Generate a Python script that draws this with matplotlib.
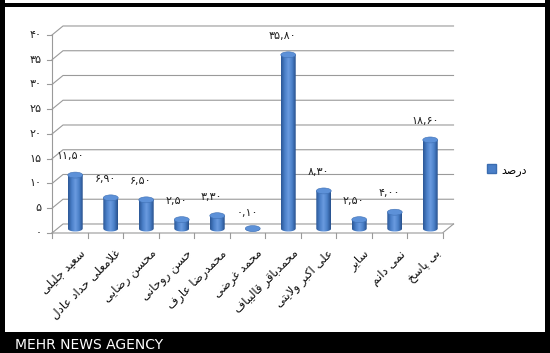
import unicodedata

import matplotlib.pyplot as plt
import numpy as np
from matplotlib.colors import LinearSegmentedColormap
from matplotlib.patches import Ellipse, PathPatch, Patch, Rectangle
from matplotlib.path import Path

# data
names = ['سعید جلیلی', 'غلامعلی حداد عادل', 'محسن رضایی', 'حسن روحانی',
         'محمدرضا عارف', 'محمد غرضی', 'محمدباقر قالیباف', 'علی اکبر ولایتی',
         'سایر', 'نمی دانم', 'بی پاسخ']
percent = [11.50, 6.90, 6.50, 2.50, 3.30, 0.10, 35.80, 8.30, 2.50, 4.00, 18.60]
yticks = [0, 5, 10, 15, 20, 25, 30, 35, 40]
legend_label = 'درصد'
footer = 'MEHR NEWS AGENCY'


def fa(s):
    # tiny arabic-script shaper: pick presentation forms, then reverse for RTL
    def form(c, f):
        try:
            return unicodedata.lookup(unicodedata.name(c) + ' ' + f + ' FORM')
        except (KeyError, ValueError):
            return None

    def is_ar(c):
        return c is not None and form(c, 'ISOLATED') is not None

    def joins_left(c):
        return c is not None and form(c, 'INITIAL') is not None

    out = []
    i = 0
    while i < len(s):
        c = s[i]
        prev = s[i - 1] if i > 0 else None
        nxt = s[i + 1] if i + 1 < len(s) else None
        jp = is_ar(c) and joins_left(prev)
        if c == 'ل' and nxt == 'ا':
            out.append(unicodedata.lookup('ARABIC LIGATURE LAM WITH ALEF ' +
                                          ('FINAL' if jp else 'ISOLATED') + ' FORM'))
            i += 2
            continue
        jn = joins_left(c) and is_ar(nxt)
        if not is_ar(c):
            out.append(c)
        else:
            f = {(True, True): 'MEDIAL', (True, False): 'FINAL',
                 (False, True): 'INITIAL', (False, False): 'ISOLATED'}[(jp, jn)]
            out.append(form(c, f) or c)
        i += 1
    return ''.join(reversed(out))


def fa_num(x, fmt):
    s = fmt % x
    return s.translate(str.maketrans('0123456789.', '۰۱۲۳۴۵۶۷۸۹,'))


fig = plt.figure(figsize=(5.5, 3.53), dpi=100)
ax = fig.add_axes([0, 0, 1, 1])
# one category = 35.5 px, one percent = 4.95 px
ax.set_xlim(-52 / 35.5, 498 / 35.5)
ax.set_ylim(-120 / 4.95, 233 / 4.95)
ax.axis('off')

n = len(percent)
DX, DY = 0.31, 1.82   # depth of the 3d box
grid = '#9a9a9a'

# walls and floor
for v in yticks:
    ax.plot([0, DX, n + DX], [v, v + DY, v + DY], color=grid, lw=0.8, zorder=1)
    ax.plot([-0.14, 0], [v, v], color=grid, lw=0.8)
    ax.text(-0.3, v, fa_num(v, '%d'), ha='right', va='center', fontsize=8,
            color='#222222')
ax.plot([0, 0], [0, yticks[-1]], color=grid, lw=0.8)
ax.plot([0, n, n + DX], [0, 0, DY], color=grid, lw=0.8)
for k in range(n + 1):
    ax.plot([k, k], [0, -1.0], color=grid, lw=0.8)

# cylinders
cmap = LinearSegmentedColormap.from_list(
    'cyl', ['#2b5796', '#4a7fc8', '#6a9be0', '#4b80c8', '#27508c'])
grad = np.linspace(0, 1, 64).reshape(1, -1)
bw, eh, bottom = 0.42, 1.2, 0.9
for i, val in enumerate(percent):
    cx = i + 0.5 + 0.155
    top = max(val + 0.2, bottom)
    t = np.linspace(np.pi, 2 * np.pi, 30)
    arc = np.column_stack([cx + bw / 2 * np.cos(t), bottom + eh / 2 * np.sin(t)])
    verts = np.vstack([[cx - bw / 2, top], arc, [cx + bw / 2, top], [cx - bw / 2, top]])
    body = PathPatch(Path(verts, closed=True), facecolor='none', edgecolor='none')
    ax.add_patch(body)
    im = ax.imshow(grad, cmap=cmap, aspect='auto', zorder=2,
                   extent=(cx - bw / 2, cx + bw / 2, bottom - eh, top))
    im.set_clip_path(body)
    ax.add_patch(Ellipse((cx, top), bw, eh, facecolor='#5d91d8',
                         edgecolor='#3f70b4', lw=0.4, zorder=3))
    ax.text(i + 0.5, val + 4, fa_num(val, '%.2f'), ha='center', va='center',
            fontsize=8, color='#222222')
    ax.text(i + 0.75, -2.8, fa(names[i]), rotation=45, ha='right', va='top',
            rotation_mode='anchor', fontsize=8.5, color='#111111')

ax.set_xlim(-52 / 35.5, 498 / 35.5)
ax.set_ylim(-120 / 4.95, 233 / 4.95)

ax.legend(handles=[Patch(facecolor='#4a7fc8', edgecolor='#3a6cb0')],
          labels=[fa(legend_label)], loc='center left',
          bbox_to_anchor=(487 / 550, 1 - 170 / 353), bbox_transform=fig.transFigure,
          frameon=False, fontsize=8, handlelength=0.8, handleheight=0.8,
          handletextpad=0.5, borderpad=0, borderaxespad=0)

# frame and footer band
H = 353.0
fig.add_artist(Rectangle((0, 0), 5 / 550, 1, transform=fig.transFigure,
                         color='black', lw=0))
fig.add_artist(Rectangle((545 / 550, 0), 5 / 550, 1, transform=fig.transFigure,
                         color='black', lw=0))
fig.add_artist(Rectangle((0, 1 - 7 / H), 1, 4 / H, transform=fig.transFigure,
                         color='black', lw=0))
fig.add_artist(Rectangle((0, 0), 1, 21 / H, transform=fig.transFigure,
                         color='black', lw=0))
fig.text(15 / 550, 8 / H, footer, color='white', fontsize=10, va='center',
         ha='left')

fig.savefig('out.png', dpi=100)
